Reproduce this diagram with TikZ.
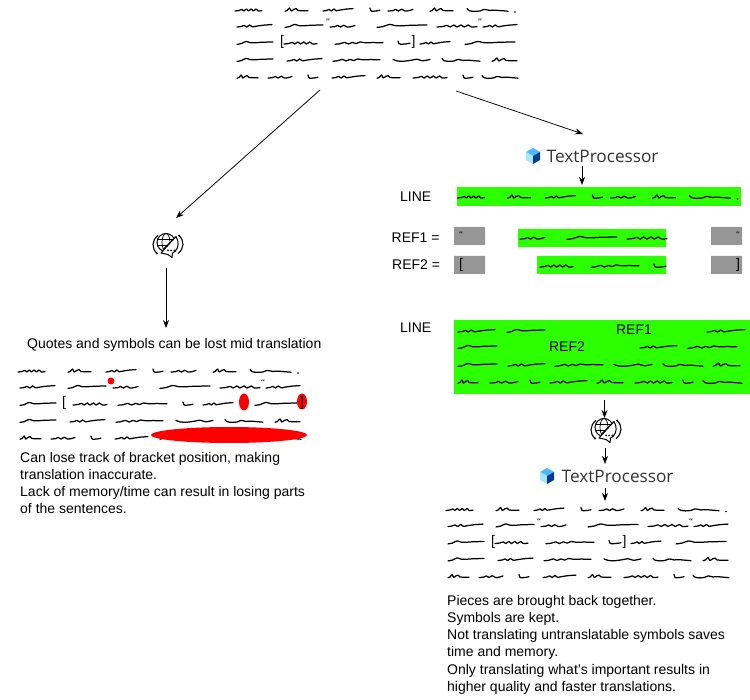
\documentclass[tikz,border=0pt]{standalone}
\usepackage{fontspec}
\setmainfont{Liberation Sans}
\newfontfamily\tpfont{Open Sans}
\newfontfamily\markfont{Liberation Serif}
\usetikzlibrary{arrows.meta}
\definecolor{lime}{HTML}{2BFF00}
\definecolor{panelgray}{HTML}{969696}
\tikzset{
  sq/.style={line width=1.25pt,black,line cap=round,line join=round},
  conn/.style={line width=0.75pt,black,-{Stealth[length=8pt,width=6pt]}},
  body/.style={font=\fontsize{14}{17.05}\selectfont,inner sep=0pt,align=left,anchor=north west},
  lab/.style={font=\fontsize{14}{16}\selectfont,inner sep=0pt,black},
  quotemark/.style={font=\markfont\fontsize{9}{9}\selectfont,inner sep=0pt},
  brak/.style={font=\fontsize{14}{14}\selectfont,inner sep=0pt},
  tplabel/.style={font=\tpfont\fontsize{17.2}{18}\selectfont,text=black!80,inner sep=0pt,anchor=west},
  cube/.pic={
    \fill[blue!40!cyan!70!white] (0,-8)--(7,-4)--(0,0)--(-7,-4)--cycle;
    \fill[blue!30!cyan!35!white] (-7,-4)--(0,0)--(0,8)--(-7,4)--cycle;
    \fill[blue!60!cyan!60!black] (7,-4)--(0,0)--(0,8)--(7,4)--cycle;
  },
  transicon/.pic={
    \draw[line width=1pt] (-2,-2) circle[radius=9];
    \draw[line width=0.7pt] (-2,-2) ellipse[x radius=4,y radius=9];
    \draw[line width=0.7pt] (-10.5,-5)--(6,-5) (-11,1)--(5,1);
    \fill[white] (-8,9)--(8,-8)--(12,0)--(6,10)--(2,13)--cycle;
    \draw[line width=1pt,line join=round] (-7,8.5)--(8,-8) .. controls (11,-3) and (11,3) .. (7,7)--(4.5,8.5)--(4,13)--(0,10)--cycle;
    \draw[line width=0.8pt] (-5,5)--(6,-6);
    \fill (0,6) circle[radius=1] (3.2,6) circle[radius=1] (6.4,6) circle[radius=1];
    \draw[line width=1.1pt] (-10,-9) .. controls (-16.5,-4) and (-16.5,4) .. (-11,9);
    \draw[line width=1.1pt] (10,9) .. controls (16.5,4) and (16.5,-4) .. (11,-9);
    \fill (-11,9) circle[radius=1.2] (11,-9) circle[radius=1.2];
  },
}
\newcommand\defword[2]{\expandafter\newcommand\csname wd#1\endcsname[3]{\draw[sq,shift={({##1},{##2})},xscale={##3}] plot[smooth,tension=0.5] coordinates {#2};}}
\defword{H}{(0,1)(.15,.5)(.25,-.6)(.33,1)(.42,-1)(.5,1)(.6,-1)(.68,1)(.78,-1)(.86,1)(1,.6)}
\defword{M}{(0,1)(.12,.5)(.2,-.6)(.28,1)(.36,-1)(.44,.8)(.55,.2)(.75,-.8)(1,-1.4)}
\defword{N}{(0,1)(.2,.6)(.3,-.6)(.42,1)(.55,-.8)(.68,1)(.85,.6)(1,-.6)}
\defword{K}{(0,1.2)(.1,.4)(.2,-2)(.27,1)(.38,-.6)(.48,-1.4)(.56,.4)(.8,.8)(1,.8)}
\defword{S}{(0,-2)(.08,.6)(.2,1.2)(.6,1)(1,0.2)}
\defword{W}{(0,1.4)(.12,.6)(.25,-1.6)(.36,-.4)(.5,-.2)(.7,-.8)(1,-.9)}
\defword{X}{(0,1.2)(.1,.8)(.2,-.6)(.28,1)(.36,-.6)(.44,.6)(.52,-1)(.62,-.3)(.8,-.4)(1,-.2)}
\defword{V}{(0,-.6)(.12,1)(.3,1.2)(.5,.2)(.65,-.8)(.8,.8)(1,-.6)}
\defword{L}{(0,-1.4)(.05,.6)(.18,1.4)(.32,.9)(.42,-.6)(.55,.4)(.7,.2)(.82,.6)(1,1.2)}
\newcommand\Dx{0}\newcommand\Dy{0}
\newcommand\W[4]{\csname wd#1\endcsname{\Dx+#2}{\Dy+#4}{#3-#2}}
\newcommand\LineOne{\W{H}{235}{262}{10}\W{K}{285}{308}{10}\W{M}{323}{353}{10}\W{S}{370}{380}{10}\W{N}{388}{413}{10}\W{K}{430}{453}{10}\W{L}{467}{508}{10}\fill ({\Dx+515},{\Dy+12}) circle[radius=0.9];}
\newcommand\LineFour{\W{W}{237}{273}{60}\W{M}{287}{322}{60}\W{X}{333}{380}{60}\W{V}{393}{430}{60}\W{L}{442}{480}{60}\W{K}{492}{517}{60}}
\newcommand\LineFive{\W{K}{237}{258}{77}\W{N}{268}{292}{77}\W{S}{308}{318}{77}\W{M}{332}{365}{77}\W{K}{377}{400}{77}\W{H}{413}{447}{77}\W{S}{463}{473}{77}\W{L}{482}{518}{77}}
\newcommand\FullBlock[3]{%
  \renewcommand\Dx{#1}\renewcommand\Dy{#2}%
  \LineOne
  \W{M}{237}{272}{26}\W{W}{285}{323}{26}\W{N}{330}{355}{26}\W{W}{377}{427}{26}\W{H}{437}{477}{26}\W{M}{483}{517}{26}
  \node[quotemark] (#3q1) at ({#1+328},{#2+22}) {“};
  \node[quotemark] (#3q2) at ({#1+480},{#2+22}) {“};
  \W{W}{237}{273}{43}\W{H}{284}{317}{43}\W{X}{335}{383}{43}\W{S}{398}{410}{43}\W{M}{420}{450}{43}\W{W}{465}{515}{43}
  \node[brak] (#3b1) at ({#1+282},{#2+42}) {[};
  \node[brak] (#3b2) at ({#1+413.5},{#2+42}) {]};
  \LineFour\LineFive}
\begin{document}
\begin{tikzpicture}[x=1pt,y=-1pt]
\useasboundingbox (0,0) rectangle (750,700);
% top block
\FullBlock{0}{0}{top}
% connector ends
\coordinate (topL) at (320,90);
\coordinate (topR) at (456,91);
\coordinate (leftIconTop) at (176,218);
\coordinate (tpOneTop) at (583,134);
% text processor 1
\pic at (533,156) {cube};
\node[tplabel] (tp1) at (546.5,156) {TextProcessor};
\coordinate (tpOneOut) at (582,166);
\coordinate (lineIn) at (582,185);
% line row
\node[lab,anchor=west] (line1) at (400,196.5) {LINE};
\fill[lime] (457,187) rectangle (741,206);
\renewcommand\Dx{222.5}\renewcommand\Dy{187}\LineOne
% REF rows
\node[lab,anchor=west] (ref1) at (391.5,237.5) {REF1 =};
\node[lab,anchor=west] (ref2) at (392,264.5) {REF2 =};
\fill[panelgray] (454,227) rectangle (485,245) (711,227) rectangle (742,245) (454,256) rectangle (485,274) (711,256) rectangle (742,274);
\fill[lime] (518,229) rectangle (666,247) (537,256) rectangle (666,274);
\renewcommand\Dx{190}\renewcommand\Dy{212}
\W{N}{330}{355}{26}\W{W}{377}{427}{26}\W{H}{437}{477}{26}
\renewcommand\Dx{256}\renewcommand\Dy{223}
\W{H}{284}{317}{43}\W{X}{335}{383}{43}\W{S}{398}{410}{43}
\node[quotemark] (gq1) at (461,235) {“};
\node[quotemark] (gq2) at (738,235) {“};
\node[brak] (gb1) at (461,264.5) {[};
\node[brak] (gb2) at (738,264.5) {]};
% big green
\node[lab,anchor=west] (line2) at (400,327.5) {LINE};
\fill[lime] (454,320) rectangle (750,394);
\node[lab] (gref1) at (634,329.5) {REF1};
\node[lab] (gref2) at (567,346.5) {REF2};
\renewcommand\Dx{0}\renewcommand\Dy{0}
\W{M}{458}{495}{331}\W{W}{507}{545}{331}\W{M}{707}{745}{331}
\W{W}{458}{497}{347}\W{M}{640}{677}{347}\W{X}{688}{737}{347}
\W{W}{458}{497}{365}\W{M}{508}{545}{365}\W{X}{555}{603}{365}\W{V}{614}{652}{365}\W{L}{663}{703}{365}\W{K}{713}{740}{365}
\W{K}{458}{478}{382}\W{N}{490}{518}{382}\W{S}{530}{540}{382}\W{M}{550}{587}{382}\W{K}{597}{623}{382}\W{H}{635}{672}{382}\W{S}{683}{693}{382}\W{L}{703}{742}{382}
% icons
\pic at (168,244.5) {transicon};
\pic at (606,429.5) {transicon};
\pic at (547,476) {cube};
\node[tplabel] (tp2) at (561.5,476) {TextProcessor};
% left block
\renewcommand\Dx{-217}\renewcommand\Dy{361}
\LineOne
\W{M}{237}{272}{26}\W{W}{285}{323}{26}\W{N}{330}{355}{26}\W{W}{377}{427}{26}\W{H}{437}{477}{26}\W{M}{483}{517}{26}
\node[quotemark] (lq2) at (263,383) {“};
\W{W}{237}{273}{43}\W{H}{290}{324}{43}\W{X}{335}{384}{43}\W{S}{400}{410}{43}\W{M}{420}{450}{43}\W{W}{472}{515}{43}
\node[brak] (lb1) at (64,403) {[};
\LineFour\LineFive
\fill[red] (111,381) circle[radius=3.5];
\fill[red] (244,402) ellipse[x radius=5,y radius=8.5];
\fill[red] (302,401.5) ellipse[x radius=5,y radius=8];
\node[brak] (lb2) at (302,403) {]};
\fill[red] (229,435) ellipse[x radius=78,y radius=8];
% bottom block
\FullBlock{211}{499.5}{bot}
% texts
\node[lab,anchor=west] (leftTitle) at (27,344.5) {Quotes and symbols can be lost mid translation};
\node[body] (leftText) at (20,452) {Can lose track of bracket position, making\\translation inaccurate.\\Lack of memory/time can result in losing parts\\of the sentences.};
\node[body] (rightText) at (447,595.5) {Pieces are brought back together.\\Symbols are kept.\\Not translating untranslatable symbols saves\\time and memory.\\Only translating what’s important results in\\higher quality and faster translations.};
% connectors
\draw[conn] (topL) -- (leftIconTop);
\draw[conn] (topR) -- (tpOneTop);
\draw[conn] (tpOneOut) -- (lineIn);
\coordinate (leftIconOut) at (166,268);
\coordinate (leftTitleTop) at (166,328);
\draw[conn] (leftIconOut) -- (leftTitleTop);
\coordinate (bigOut) at (604.5,400);
\coordinate (iconIn) at (604.5,418);
\draw[conn] (bigOut) -- (iconIn);
\coordinate (iconOut) at (605,448);
\coordinate (tpTwoIn) at (605,464);
\draw[conn] (iconOut) -- (tpTwoIn);
\coordinate (tpTwoOut) at (605,488);
\coordinate (botIn) at (605,501);
\draw[conn] (tpTwoOut) -- (botIn);
\end{tikzpicture}
\end{document}
